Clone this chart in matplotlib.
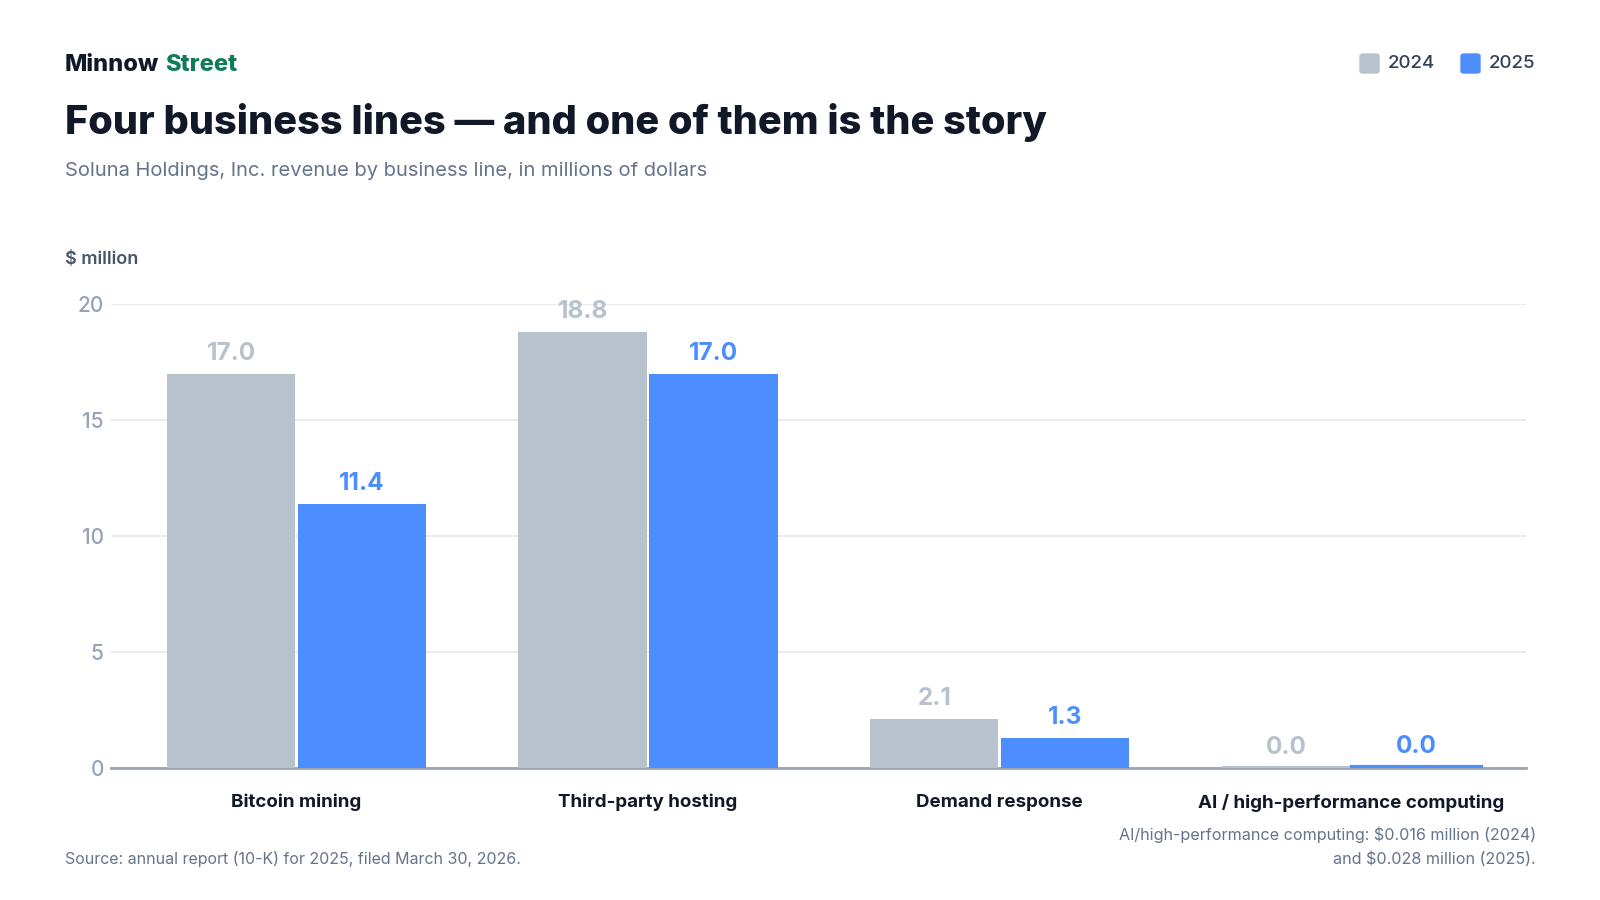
import matplotlib
matplotlib.use("Agg")
import matplotlib.pyplot as plt
from matplotlib.patches import FancyBboxPatch
import numpy as np

plt.rcParams['font.family'] = ['Inter', 'DejaVu Sans']

# data
categories = ["Bitcoin mining", "Third-party hosting", "Demand response",
              "AI / high-performance computing"]
rev_2024 = [17.0, 18.8, 2.1, 0.016]
rev_2025 = [11.4, 17.0, 1.3, 0.028]
years = ["2024", "2025"]
yticks = [0, 5, 10, 15, 20]

GREY = "#b8c2cc"
BLUE = "#4d8eff"
DARK = "#111827"
SLATE = "#64748b"
TICK = "#94a3b8"

fig = plt.figure(figsize=(16, 9), dpi=100)
ax = fig.add_axes([110.7 / 1600, 1 - 768 / 900, (1526 - 110.7) / 1600, (768 - 304) / 900])

x = np.arange(len(categories))
w = 0.365
off = 0.186
for vals, color, dx in [(rev_2024, GREY, -off), (rev_2025, BLUE, off)]:
    bars = ax.bar(x + dx, vals, width=w, color=color, edgecolor=color,
                  linewidth=0, zorder=3)
    for b, v in zip(bars, vals):
        if v < 0.5:
            # tiny values: keep them visible as a thin strip on the baseline
            b.set_linewidth(3)
        ax.annotate(f"{v:.1f}", (b.get_x() + b.get_width() / 2, v),
                    xytext=(0, 10), textcoords="offset points",
                    ha="center", va="baseline", fontsize=17.5,
                    fontweight="bold", color=color, annotation_clip=False)

ax.set_xlim(-0.528, 3.497)
ax.set_ylim(0, 20)
ax.set_yticks(yticks)
ax.set_yticklabels([str(t) for t in yticks])
ax.set_xticks(x)
ax.set_xticklabels(categories)
ax.tick_params(axis="y", length=0, pad=5, labelsize=15, labelcolor=TICK)
ax.tick_params(axis="x", length=0, pad=18.5, labelsize=13.5, labelcolor=DARK)
for lab in ax.get_xticklabels():
    lab.set_fontweight("bold")
for lab in ax.get_yticklabels():
    lab.set_fontweight("medium")
ax.grid(axis="y", color="#e5e7eb", linewidth=1.2, zorder=0)
for s in ["top", "right", "left"]:
    ax.spines[s].set_visible(False)
ax.spines["bottom"].set_color("#9ca3af")
ax.spines["bottom"].set_linewidth(2)
ax.spines["bottom"].set_zorder(2)

# header
fig.text(65 / 1600, 1 - 65 / 900, "Minnow", fontsize=17, fontweight="heavy",
         color=DARK, va="center", ha="left")
fig.text(165 / 1600, 1 - 65 / 900, "Street", fontsize=17, fontweight="heavy",
         color="#0f7b5a", va="center", ha="left")
fig.text(65 / 1600, 1 - 122 / 900, "Four business lines \u2014 and one of them is the story",
         fontsize=28.6, fontweight="heavy", color=DARK, va="center", ha="left")
fig.text(65 / 1600, 1 - 171 / 900,
         "Soluna Holdings, Inc. revenue by business line, in millions of dollars",
         fontsize=14.5, color=SLATE, va="center", ha="left")
fig.text(65 / 1600, 1 - 260 / 900, "$ million", fontsize=13, fontweight="semibold",
         color="#475569", va="center", ha="left")

# legend
for i, (yr, color) in enumerate(zip(years, [GREY, BLUE])):
    x0 = 1360 + i * 101
    fig.patches.append(FancyBboxPatch((x0 / 1600, 1 - 73 / 900), 19 / 1600, 19 / 900,
                                      boxstyle="round,pad=0,rounding_size=0.002",
                                      transform=fig.transFigure, color=color))
    fig.text((x0 + 28) / 1600, 1 - 64 / 900, yr, fontsize=13.5, fontweight="medium",
             color="#334155", va="center", ha="left")

# footer
fig.text(65 / 1600, 1 - 859 / 900, "Source: annual report (10-K) for 2025, filed March 30, 2026.",
         fontsize=11.5, color=SLATE, va="center", ha="left")
fig.text(1536 / 1600, 1 - 835 / 900,
         "AI/high-performance computing: $0.016 million (2024)",
         fontsize=11.6, color=SLATE, va="center", ha="right")
fig.text(1536 / 1600, 1 - 859 / 900, "and $0.028 million (2025).",
         fontsize=11.6, color=SLATE, va="center", ha="right")

fig.savefig("out.png", dpi=100, facecolor="white")
